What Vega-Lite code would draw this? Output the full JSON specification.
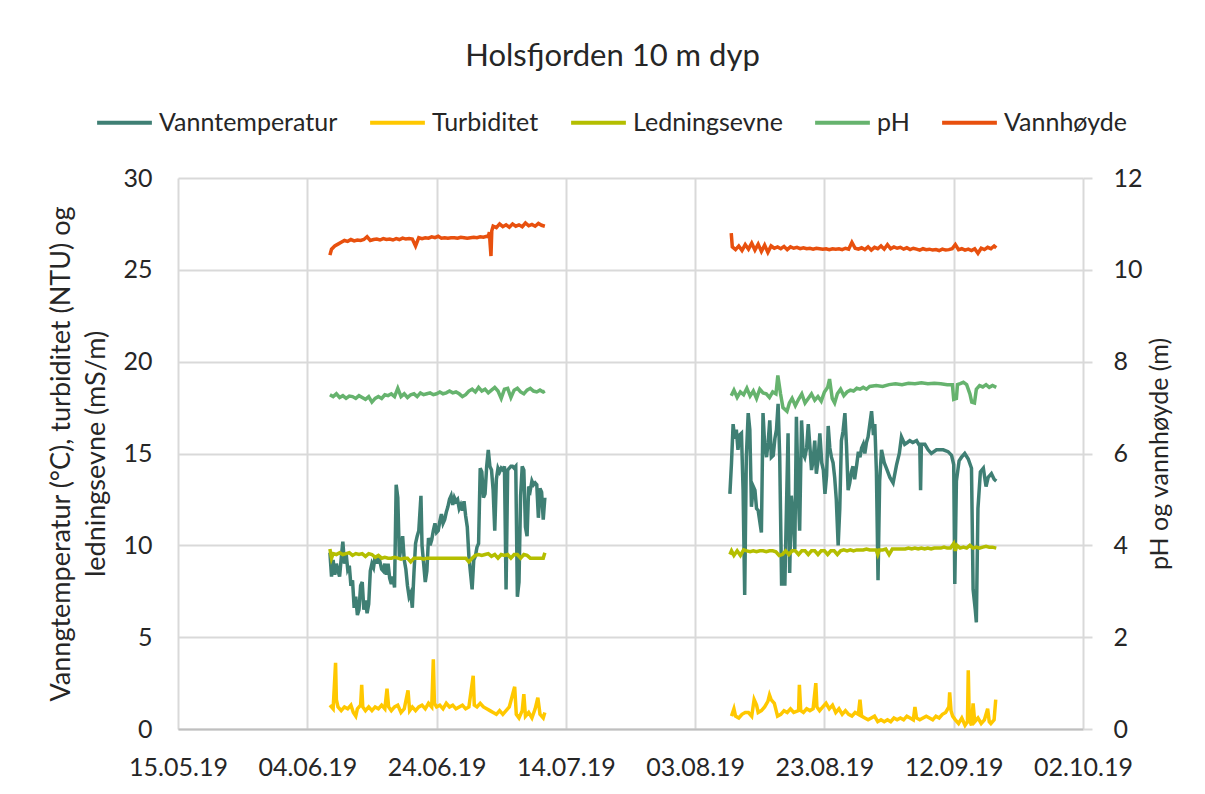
{
"$schema": "https://vega.github.io/schema/vega-lite/v6.json",
"width": 905, "height": 551,
"autosize": {"type": "none"},
"padding": {"left": 178, "top": 178, "right": 122, "bottom": 65},
"background": "white",
"title": {"text": "Holsfjorden 10 m dyp", "font": "Lato", "fontSize": 31, "fontWeight": "normal", "color": "#262626", "anchor": "middle", "dx": -18, "offset": 20},
"config": {
  "view": {"stroke": null},
  "font": "Lato",
  "axis": {"labelFont": "Lato", "titleFont": "Lato", "labelFontSize": 25, "titleFontSize": 25, "labelColor": "#262626", "titleColor": "#262626", "titleFontWeight": "normal", "gridColor": "#d9d9d9", "gridWidth": 2},
  "legend": {"labelFont": "Lato", "labelFontSize": 25, "labelColor": "#262626"}
},
"datasets": {
"left": [
{"t":"2019-06-07T12:00","s":"Vanntemperatur","v":9.6,"p":1},
{"t":"2019-06-07T18:00","s":"Vanntemperatur","v":8.3,"p":1},
{"t":"2019-06-08T00:00","s":"Vanntemperatur","v":9.2,"p":1},
{"t":"2019-06-08T06:00","s":"Vanntemperatur","v":8.4,"p":1},
{"t":"2019-06-08T12:00","s":"Vanntemperatur","v":9.0,"p":1},
{"t":"2019-06-08T18:00","s":"Vanntemperatur","v":8.6,"p":1},
{"t":"2019-06-09T00:00","s":"Vanntemperatur","v":8.3,"p":1},
{"t":"2019-06-09T06:00","s":"Vanntemperatur","v":9.3,"p":1},
{"t":"2019-06-09T12:00","s":"Vanntemperatur","v":10.2,"p":1},
{"t":"2019-06-09T18:00","s":"Vanntemperatur","v":9.0,"p":1},
{"t":"2019-06-10T00:00","s":"Vanntemperatur","v":9.6,"p":1},
{"t":"2019-06-10T06:00","s":"Vanntemperatur","v":8.7,"p":1},
{"t":"2019-06-10T12:00","s":"Vanntemperatur","v":8.9,"p":1},
{"t":"2019-06-10T18:00","s":"Vanntemperatur","v":7.8,"p":1},
{"t":"2019-06-11T00:00","s":"Vanntemperatur","v":8.1,"p":1},
{"t":"2019-06-11T06:00","s":"Vanntemperatur","v":6.6,"p":1},
{"t":"2019-06-11T12:00","s":"Vanntemperatur","v":7.2,"p":1},
{"t":"2019-06-11T18:00","s":"Vanntemperatur","v":6.2,"p":1},
{"t":"2019-06-12T00:00","s":"Vanntemperatur","v":6.5,"p":1},
{"t":"2019-06-12T06:00","s":"Vanntemperatur","v":7.8,"p":1},
{"t":"2019-06-12T12:00","s":"Vanntemperatur","v":8.0,"p":1},
{"t":"2019-06-12T18:00","s":"Vanntemperatur","v":6.5,"p":1},
{"t":"2019-06-13T00:00","s":"Vanntemperatur","v":7.0,"p":1},
{"t":"2019-06-13T06:00","s":"Vanntemperatur","v":6.3,"p":1},
{"t":"2019-06-13T12:00","s":"Vanntemperatur","v":6.8,"p":1},
{"t":"2019-06-13T18:00","s":"Vanntemperatur","v":8.6,"p":1},
{"t":"2019-06-14T00:00","s":"Vanntemperatur","v":9.0,"p":1},
{"t":"2019-06-14T06:00","s":"Vanntemperatur","v":8.8,"p":1},
{"t":"2019-06-14T12:00","s":"Vanntemperatur","v":9.4,"p":1},
{"t":"2019-06-14T18:00","s":"Vanntemperatur","v":9.0,"p":1},
{"t":"2019-06-15T00:00","s":"Vanntemperatur","v":9.4,"p":1},
{"t":"2019-06-15T06:00","s":"Vanntemperatur","v":9.1,"p":1},
{"t":"2019-06-15T12:00","s":"Vanntemperatur","v":8.7,"p":1},
{"t":"2019-06-15T18:00","s":"Vanntemperatur","v":8.6,"p":1},
{"t":"2019-06-16T00:00","s":"Vanntemperatur","v":9.0,"p":1},
{"t":"2019-06-16T06:00","s":"Vanntemperatur","v":8.4,"p":1},
{"t":"2019-06-16T12:00","s":"Vanntemperatur","v":9.0,"p":1},
{"t":"2019-06-16T18:00","s":"Vanntemperatur","v":8.2,"p":1},
{"t":"2019-06-17T00:00","s":"Vanntemperatur","v":7.9,"p":1},
{"t":"2019-06-17T06:00","s":"Vanntemperatur","v":8.3,"p":1},
{"t":"2019-06-17T12:00","s":"Vanntemperatur","v":7.7,"p":1},
{"t":"2019-06-17T18:00","s":"Vanntemperatur","v":13.3,"p":1},
{"t":"2019-06-18T00:00","s":"Vanntemperatur","v":12.6,"p":1},
{"t":"2019-06-18T06:00","s":"Vanntemperatur","v":9.3,"p":1},
{"t":"2019-06-18T12:00","s":"Vanntemperatur","v":9.9,"p":1},
{"t":"2019-06-18T18:00","s":"Vanntemperatur","v":10.5,"p":1},
{"t":"2019-06-19T00:00","s":"Vanntemperatur","v":9.2,"p":1},
{"t":"2019-06-19T06:00","s":"Vanntemperatur","v":8.7,"p":1},
{"t":"2019-06-19T12:00","s":"Vanntemperatur","v":7.8,"p":1},
{"t":"2019-06-19T18:00","s":"Vanntemperatur","v":7.2,"p":1},
{"t":"2019-06-20T00:00","s":"Vanntemperatur","v":7.4,"p":1},
{"t":"2019-06-20T06:00","s":"Vanntemperatur","v":6.6,"p":1},
{"t":"2019-06-20T12:00","s":"Vanntemperatur","v":8.5,"p":1},
{"t":"2019-06-20T18:00","s":"Vanntemperatur","v":10.1,"p":1},
{"t":"2019-06-21T00:00","s":"Vanntemperatur","v":10.5,"p":1},
{"t":"2019-06-21T06:00","s":"Vanntemperatur","v":10.8,"p":1},
{"t":"2019-06-21T14:00","s":"Vanntemperatur","v":12.7,"p":1},
{"t":"2019-06-21T18:00","s":"Vanntemperatur","v":10.0,"p":1},
{"t":"2019-06-22T00:00","s":"Vanntemperatur","v":9.0,"p":1},
{"t":"2019-06-22T06:00","s":"Vanntemperatur","v":8.0,"p":1},
{"t":"2019-06-22T12:00","s":"Vanntemperatur","v":8.6,"p":1},
{"t":"2019-06-22T18:00","s":"Vanntemperatur","v":10.4,"p":1},
{"t":"2019-06-23T00:00","s":"Vanntemperatur","v":10.0,"p":1},
{"t":"2019-06-23T06:00","s":"Vanntemperatur","v":10.3,"p":1},
{"t":"2019-06-23T12:00","s":"Vanntemperatur","v":10.8,"p":1},
{"t":"2019-06-23T18:00","s":"Vanntemperatur","v":11.2,"p":1},
{"t":"2019-06-24T00:00","s":"Vanntemperatur","v":10.7,"p":1},
{"t":"2019-06-24T06:00","s":"Vanntemperatur","v":10.8,"p":1},
{"t":"2019-06-24T12:00","s":"Vanntemperatur","v":11.3,"p":1},
{"t":"2019-06-24T18:00","s":"Vanntemperatur","v":11.7,"p":1},
{"t":"2019-06-25T00:00","s":"Vanntemperatur","v":11.2,"p":1},
{"t":"2019-06-25T06:00","s":"Vanntemperatur","v":11.4,"p":1},
{"t":"2019-06-25T12:00","s":"Vanntemperatur","v":11.8,"p":1},
{"t":"2019-06-25T18:00","s":"Vanntemperatur","v":12.1,"p":1},
{"t":"2019-06-26T00:00","s":"Vanntemperatur","v":12.5,"p":1},
{"t":"2019-06-26T06:00","s":"Vanntemperatur","v":12.7,"p":1},
{"t":"2019-06-26T12:00","s":"Vanntemperatur","v":12.2,"p":1},
{"t":"2019-06-26T18:00","s":"Vanntemperatur","v":12.6,"p":1},
{"t":"2019-06-27T00:00","s":"Vanntemperatur","v":12.4,"p":1},
{"t":"2019-06-27T06:00","s":"Vanntemperatur","v":12.5,"p":1},
{"t":"2019-06-27T12:00","s":"Vanntemperatur","v":12.0,"p":1},
{"t":"2019-06-27T18:00","s":"Vanntemperatur","v":12.2,"p":1},
{"t":"2019-06-28T00:00","s":"Vanntemperatur","v":11.9,"p":1},
{"t":"2019-06-28T06:00","s":"Vanntemperatur","v":12.4,"p":1},
{"t":"2019-06-28T12:00","s":"Vanntemperatur","v":11.6,"p":1},
{"t":"2019-06-28T18:00","s":"Vanntemperatur","v":11.0,"p":1},
{"t":"2019-06-29T00:00","s":"Vanntemperatur","v":9.4,"p":1},
{"t":"2019-06-29T06:00","s":"Vanntemperatur","v":8.5,"p":1},
{"t":"2019-06-29T12:00","s":"Vanntemperatur","v":7.6,"p":1},
{"t":"2019-06-29T18:00","s":"Vanntemperatur","v":9.2,"p":1},
{"t":"2019-06-30T00:00","s":"Vanntemperatur","v":9.4,"p":1},
{"t":"2019-06-30T06:00","s":"Vanntemperatur","v":9.9,"p":1},
{"t":"2019-06-30T12:00","s":"Vanntemperatur","v":10.1,"p":1},
{"t":"2019-06-30T18:00","s":"Vanntemperatur","v":14.2,"p":1},
{"t":"2019-07-01T00:00","s":"Vanntemperatur","v":14.0,"p":1},
{"t":"2019-07-01T06:00","s":"Vanntemperatur","v":12.6,"p":1},
{"t":"2019-07-01T12:00","s":"Vanntemperatur","v":12.8,"p":1},
{"t":"2019-07-01T18:00","s":"Vanntemperatur","v":14.3,"p":1},
{"t":"2019-07-02T00:00","s":"Vanntemperatur","v":15.2,"p":1},
{"t":"2019-07-02T06:00","s":"Vanntemperatur","v":14.3,"p":1},
{"t":"2019-07-02T12:00","s":"Vanntemperatur","v":14.1,"p":1},
{"t":"2019-07-02T18:00","s":"Vanntemperatur","v":13.0,"p":1},
{"t":"2019-07-03T00:00","s":"Vanntemperatur","v":10.8,"p":1},
{"t":"2019-07-03T06:00","s":"Vanntemperatur","v":13.6,"p":1},
{"t":"2019-07-03T12:00","s":"Vanntemperatur","v":14.2,"p":1},
{"t":"2019-07-03T18:00","s":"Vanntemperatur","v":14.0,"p":1},
{"t":"2019-07-04T00:00","s":"Vanntemperatur","v":14.2,"p":1},
{"t":"2019-07-04T06:00","s":"Vanntemperatur","v":14.1,"p":1},
{"t":"2019-07-04T12:00","s":"Vanntemperatur","v":14.3,"p":1},
{"t":"2019-07-04T18:00","s":"Vanntemperatur","v":7.6,"p":1},
{"t":"2019-07-05T00:00","s":"Vanntemperatur","v":14.1,"p":1},
{"t":"2019-07-05T06:00","s":"Vanntemperatur","v":14.2,"p":1},
{"t":"2019-07-05T12:00","s":"Vanntemperatur","v":14.3,"p":1},
{"t":"2019-07-05T18:00","s":"Vanntemperatur","v":14.3,"p":1},
{"t":"2019-07-06T00:00","s":"Vanntemperatur","v":14.2,"p":1},
{"t":"2019-07-06T06:00","s":"Vanntemperatur","v":14.3,"p":1},
{"t":"2019-07-06T12:00","s":"Vanntemperatur","v":7.2,"p":1},
{"t":"2019-07-06T18:00","s":"Vanntemperatur","v":8.0,"p":1},
{"t":"2019-07-07T00:00","s":"Vanntemperatur","v":12.7,"p":1},
{"t":"2019-07-07T06:00","s":"Vanntemperatur","v":14.3,"p":1},
{"t":"2019-07-07T12:00","s":"Vanntemperatur","v":14.1,"p":1},
{"t":"2019-07-07T18:00","s":"Vanntemperatur","v":11.0,"p":1},
{"t":"2019-07-08T00:00","s":"Vanntemperatur","v":10.5,"p":1},
{"t":"2019-07-08T06:00","s":"Vanntemperatur","v":13.2,"p":1},
{"t":"2019-07-08T12:00","s":"Vanntemperatur","v":13.0,"p":1},
{"t":"2019-07-08T18:00","s":"Vanntemperatur","v":13.5,"p":1},
{"t":"2019-07-09T00:00","s":"Vanntemperatur","v":13.3,"p":1},
{"t":"2019-07-09T06:00","s":"Vanntemperatur","v":13.4,"p":1},
{"t":"2019-07-09T12:00","s":"Vanntemperatur","v":13.3,"p":1},
{"t":"2019-07-09T18:00","s":"Vanntemperatur","v":11.5,"p":1},
{"t":"2019-07-10T00:00","s":"Vanntemperatur","v":13.1,"p":1},
{"t":"2019-07-10T06:00","s":"Vanntemperatur","v":12.9,"p":1},
{"t":"2019-07-10T12:00","s":"Vanntemperatur","v":11.4,"p":1},
{"t":"2019-07-10T18:00","s":"Vanntemperatur","v":12.6,"p":1},
{"t":"2019-08-08T09:00","s":"Vanntemperatur","v":12.8,"p":2},
{"t":"2019-08-08T15:00","s":"Vanntemperatur","v":14.5,"p":2},
{"t":"2019-08-08T21:00","s":"Vanntemperatur","v":16.6,"p":2},
{"t":"2019-08-09T03:00","s":"Vanntemperatur","v":15.8,"p":2},
{"t":"2019-08-09T09:00","s":"Vanntemperatur","v":16.3,"p":2},
{"t":"2019-08-09T15:00","s":"Vanntemperatur","v":15.2,"p":2},
{"t":"2019-08-09T21:00","s":"Vanntemperatur","v":16.0,"p":2},
{"t":"2019-08-10T04:00","s":"Vanntemperatur","v":16.1,"p":2},
{"t":"2019-08-10T10:00","s":"Vanntemperatur","v":13.0,"p":2},
{"t":"2019-08-10T16:00","s":"Vanntemperatur","v":7.3,"p":2},
{"t":"2019-08-10T22:00","s":"Vanntemperatur","v":14.8,"p":2},
{"t":"2019-08-11T05:00","s":"Vanntemperatur","v":17.2,"p":2},
{"t":"2019-08-11T11:00","s":"Vanntemperatur","v":16.3,"p":2},
{"t":"2019-08-11T17:00","s":"Vanntemperatur","v":12.1,"p":2},
{"t":"2019-08-12T00:00","s":"Vanntemperatur","v":13.2,"p":2},
{"t":"2019-08-12T06:00","s":"Vanntemperatur","v":13.0,"p":2},
{"t":"2019-08-12T12:00","s":"Vanntemperatur","v":12.0,"p":2},
{"t":"2019-08-12T18:00","s":"Vanntemperatur","v":11.9,"p":2},
{"t":"2019-08-13T06:00","s":"Vanntemperatur","v":10.7,"p":2},
{"t":"2019-08-13T12:00","s":"Vanntemperatur","v":17.2,"p":2},
{"t":"2019-08-13T18:00","s":"Vanntemperatur","v":15.5,"p":2},
{"t":"2019-08-14T01:00","s":"Vanntemperatur","v":14.8,"p":2},
{"t":"2019-08-14T07:00","s":"Vanntemperatur","v":15.6,"p":2},
{"t":"2019-08-14T13:00","s":"Vanntemperatur","v":16.8,"p":2},
{"t":"2019-08-14T19:00","s":"Vanntemperatur","v":14.8,"p":2},
{"t":"2019-08-15T02:00","s":"Vanntemperatur","v":14.9,"p":2},
{"t":"2019-08-15T08:00","s":"Vanntemperatur","v":15.8,"p":2},
{"t":"2019-08-15T14:00","s":"Vanntemperatur","v":16.3,"p":2},
{"t":"2019-08-15T20:00","s":"Vanntemperatur","v":17.7,"p":2},
{"t":"2019-08-16T02:00","s":"Vanntemperatur","v":14.8,"p":2},
{"t":"2019-08-16T09:00","s":"Vanntemperatur","v":7.8,"p":2},
{"t":"2019-08-16T15:00","s":"Vanntemperatur","v":9.5,"p":2},
{"t":"2019-08-16T21:00","s":"Vanntemperatur","v":7.8,"p":2},
{"t":"2019-08-17T03:00","s":"Vanntemperatur","v":12.0,"p":2},
{"t":"2019-08-17T09:00","s":"Vanntemperatur","v":16.1,"p":2},
{"t":"2019-08-17T15:00","s":"Vanntemperatur","v":8.5,"p":2},
{"t":"2019-08-17T21:00","s":"Vanntemperatur","v":12.7,"p":2},
{"t":"2019-08-18T04:00","s":"Vanntemperatur","v":11.5,"p":2},
{"t":"2019-08-18T10:00","s":"Vanntemperatur","v":9.8,"p":2},
{"t":"2019-08-18T16:00","s":"Vanntemperatur","v":17.0,"p":2},
{"t":"2019-08-18T22:00","s":"Vanntemperatur","v":13.2,"p":2},
{"t":"2019-08-19T04:00","s":"Vanntemperatur","v":10.8,"p":2},
{"t":"2019-08-19T11:00","s":"Vanntemperatur","v":16.8,"p":2},
{"t":"2019-08-19T17:00","s":"Vanntemperatur","v":15.0,"p":2},
{"t":"2019-08-19T23:00","s":"Vanntemperatur","v":14.8,"p":2},
{"t":"2019-08-20T06:00","s":"Vanntemperatur","v":15.3,"p":2},
{"t":"2019-08-20T12:00","s":"Vanntemperatur","v":16.6,"p":2},
{"t":"2019-08-20T18:00","s":"Vanntemperatur","v":15.4,"p":2},
{"t":"2019-08-21T00:00","s":"Vanntemperatur","v":14.1,"p":2},
{"t":"2019-08-21T06:00","s":"Vanntemperatur","v":14.6,"p":2},
{"t":"2019-08-21T12:00","s":"Vanntemperatur","v":15.7,"p":2},
{"t":"2019-08-21T18:00","s":"Vanntemperatur","v":13.9,"p":2},
{"t":"2019-08-22T00:00","s":"Vanntemperatur","v":14.6,"p":2},
{"t":"2019-08-22T07:00","s":"Vanntemperatur","v":16.1,"p":2},
{"t":"2019-08-22T14:00","s":"Vanntemperatur","v":14.5,"p":2},
{"t":"2019-08-22T20:00","s":"Vanntemperatur","v":14.1,"p":2},
{"t":"2019-08-23T02:00","s":"Vanntemperatur","v":12.8,"p":2},
{"t":"2019-08-23T08:00","s":"Vanntemperatur","v":13.8,"p":2},
{"t":"2019-08-23T14:00","s":"Vanntemperatur","v":16.5,"p":2},
{"t":"2019-08-23T20:00","s":"Vanntemperatur","v":15.3,"p":2},
{"t":"2019-08-24T02:00","s":"Vanntemperatur","v":14.8,"p":2},
{"t":"2019-08-24T08:00","s":"Vanntemperatur","v":14.5,"p":2},
{"t":"2019-08-24T14:00","s":"Vanntemperatur","v":13.7,"p":2},
{"t":"2019-08-24T20:00","s":"Vanntemperatur","v":12.5,"p":2},
{"t":"2019-08-25T03:00","s":"Vanntemperatur","v":10.0,"p":2},
{"t":"2019-08-25T09:00","s":"Vanntemperatur","v":12.0,"p":2},
{"t":"2019-08-25T15:00","s":"Vanntemperatur","v":15.7,"p":2},
{"t":"2019-08-25T21:00","s":"Vanntemperatur","v":16.2,"p":2},
{"t":"2019-08-26T04:00","s":"Vanntemperatur","v":17.2,"p":2},
{"t":"2019-08-26T10:00","s":"Vanntemperatur","v":15.4,"p":2},
{"t":"2019-08-26T16:00","s":"Vanntemperatur","v":13.0,"p":2},
{"t":"2019-08-26T22:00","s":"Vanntemperatur","v":13.4,"p":2},
{"t":"2019-08-27T04:00","s":"Vanntemperatur","v":14.0,"p":2},
{"t":"2019-08-27T10:00","s":"Vanntemperatur","v":14.3,"p":2},
{"t":"2019-08-27T16:00","s":"Vanntemperatur","v":13.6,"p":2},
{"t":"2019-08-28T00:00","s":"Vanntemperatur","v":14.4,"p":2},
{"t":"2019-08-28T06:00","s":"Vanntemperatur","v":15.1,"p":2},
{"t":"2019-08-28T12:00","s":"Vanntemperatur","v":14.8,"p":2},
{"t":"2019-08-28T18:00","s":"Vanntemperatur","v":15.3,"p":2},
{"t":"2019-08-29T00:00","s":"Vanntemperatur","v":15.5,"p":2},
{"t":"2019-08-29T06:00","s":"Vanntemperatur","v":15.0,"p":2},
{"t":"2019-08-29T12:00","s":"Vanntemperatur","v":15.6,"p":2},
{"t":"2019-08-29T18:00","s":"Vanntemperatur","v":15.9,"p":2},
{"t":"2019-08-30T07:00","s":"Vanntemperatur","v":17.3,"p":2},
{"t":"2019-08-30T14:00","s":"Vanntemperatur","v":16.0,"p":2},
{"t":"2019-08-30T19:00","s":"Vanntemperatur","v":16.6,"p":2},
{"t":"2019-08-31T01:00","s":"Vanntemperatur","v":14.0,"p":2},
{"t":"2019-08-31T07:00","s":"Vanntemperatur","v":8.1,"p":2},
{"t":"2019-08-31T13:00","s":"Vanntemperatur","v":13.5,"p":2},
{"t":"2019-08-31T20:00","s":"Vanntemperatur","v":15.2,"p":2},
{"t":"2019-09-01T06:00","s":"Vanntemperatur","v":14.5,"p":2},
{"t":"2019-09-01T14:00","s":"Vanntemperatur","v":14.2,"p":2},
{"t":"2019-09-02T03:00","s":"Vanntemperatur","v":13.7,"p":2},
{"t":"2019-09-02T15:00","s":"Vanntemperatur","v":13.4,"p":2},
{"t":"2019-09-03T04:00","s":"Vanntemperatur","v":14.4,"p":2},
{"t":"2019-09-03T14:00","s":"Vanntemperatur","v":15.0,"p":2},
{"t":"2019-09-03T22:00","s":"Vanntemperatur","v":15.9,"p":2},
{"t":"2019-09-04T10:00","s":"Vanntemperatur","v":15.5,"p":2},
{"t":"2019-09-04T20:00","s":"Vanntemperatur","v":15.6,"p":2},
{"t":"2019-09-05T05:00","s":"Vanntemperatur","v":15.7,"p":2},
{"t":"2019-09-05T16:00","s":"Vanntemperatur","v":15.6,"p":2},
{"t":"2019-09-06T06:00","s":"Vanntemperatur","v":15.7,"p":2},
{"t":"2019-09-06T18:00","s":"Vanntemperatur","v":15.4,"p":2},
{"t":"2019-09-06T21:00","s":"Vanntemperatur","v":13.0,"p":2},
{"t":"2019-09-07T00:00","s":"Vanntemperatur","v":15.5,"p":2},
{"t":"2019-09-07T13:00","s":"Vanntemperatur","v":15.5,"p":2},
{"t":"2019-09-08T01:00","s":"Vanntemperatur","v":15.2,"p":2},
{"t":"2019-09-08T13:00","s":"Vanntemperatur","v":15.0,"p":2},
{"t":"2019-09-09T08:00","s":"Vanntemperatur","v":15.2,"p":2},
{"t":"2019-09-10T09:00","s":"Vanntemperatur","v":15.2,"p":2},
{"t":"2019-09-11T03:00","s":"Vanntemperatur","v":15.1,"p":2},
{"t":"2019-09-11T16:00","s":"Vanntemperatur","v":14.9,"p":2},
{"t":"2019-09-12T00:00","s":"Vanntemperatur","v":14.4,"p":2},
{"t":"2019-09-12T04:00","s":"Vanntemperatur","v":7.9,"p":2},
{"t":"2019-09-12T10:00","s":"Vanntemperatur","v":13.5,"p":2},
{"t":"2019-09-12T20:00","s":"Vanntemperatur","v":14.6,"p":2},
{"t":"2019-09-13T05:00","s":"Vanntemperatur","v":14.8,"p":2},
{"t":"2019-09-13T17:00","s":"Vanntemperatur","v":15.0,"p":2},
{"t":"2019-09-14T06:00","s":"Vanntemperatur","v":14.7,"p":2},
{"t":"2019-09-14T18:00","s":"Vanntemperatur","v":14.2,"p":2},
{"t":"2019-09-15T00:00","s":"Vanntemperatur","v":7.6,"p":2},
{"t":"2019-09-15T08:00","s":"Vanntemperatur","v":6.5,"p":2},
{"t":"2019-09-15T12:00","s":"Vanntemperatur","v":5.8,"p":2},
{"t":"2019-09-15T18:00","s":"Vanntemperatur","v":12.0,"p":2},
{"t":"2019-09-16T03:00","s":"Vanntemperatur","v":14.0,"p":2},
{"t":"2019-09-16T14:00","s":"Vanntemperatur","v":14.2,"p":2},
{"t":"2019-09-17T00:00","s":"Vanntemperatur","v":13.2,"p":2},
{"t":"2019-09-17T08:00","s":"Vanntemperatur","v":13.7,"p":2},
{"t":"2019-09-17T20:00","s":"Vanntemperatur","v":13.9,"p":2},
{"t":"2019-09-18T06:00","s":"Vanntemperatur","v":13.6,"p":2},
{"t":"2019-09-18T14:00","s":"Vanntemperatur","v":13.5,"p":2},
{"t":"2019-06-07T12:00","s":"Turbiditet","v":1.3,"p":1},
{"t":"2019-06-08T00:00","s":"Turbiditet","v":1.1,"p":1},
{"t":"2019-06-08T09:00","s":"Turbiditet","v":3.6,"p":1},
{"t":"2019-06-08T12:00","s":"Turbiditet","v":1.6,"p":1},
{"t":"2019-06-08T18:00","s":"Turbiditet","v":1.2,"p":1},
{"t":"2019-06-09T06:00","s":"Turbiditet","v":1.0,"p":1},
{"t":"2019-06-09T18:00","s":"Turbiditet","v":1.2,"p":1},
{"t":"2019-06-10T06:00","s":"Turbiditet","v":1.1,"p":1},
{"t":"2019-06-10T18:00","s":"Turbiditet","v":1.3,"p":1},
{"t":"2019-06-11T03:00","s":"Turbiditet","v":0.9,"p":1},
{"t":"2019-06-11T12:00","s":"Turbiditet","v":0.7,"p":1},
{"t":"2019-06-11T18:00","s":"Turbiditet","v":1.1,"p":1},
{"t":"2019-06-12T06:00","s":"Turbiditet","v":1.3,"p":1},
{"t":"2019-06-12T10:00","s":"Turbiditet","v":2.4,"p":1},
{"t":"2019-06-12T14:00","s":"Turbiditet","v":1.2,"p":1},
{"t":"2019-06-13T00:00","s":"Turbiditet","v":1.0,"p":1},
{"t":"2019-06-13T12:00","s":"Turbiditet","v":1.2,"p":1},
{"t":"2019-06-14T00:00","s":"Turbiditet","v":1.0,"p":1},
{"t":"2019-06-14T12:00","s":"Turbiditet","v":1.2,"p":1},
{"t":"2019-06-15T00:00","s":"Turbiditet","v":1.1,"p":1},
{"t":"2019-06-15T12:00","s":"Turbiditet","v":1.3,"p":1},
{"t":"2019-06-16T00:00","s":"Turbiditet","v":1.1,"p":1},
{"t":"2019-06-16T08:00","s":"Turbiditet","v":2.2,"p":1},
{"t":"2019-06-16T14:00","s":"Turbiditet","v":1.2,"p":1},
{"t":"2019-06-17T00:00","s":"Turbiditet","v":1.0,"p":1},
{"t":"2019-06-17T12:00","s":"Turbiditet","v":1.2,"p":1},
{"t":"2019-06-18T00:00","s":"Turbiditet","v":1.3,"p":1},
{"t":"2019-06-18T12:00","s":"Turbiditet","v":0.9,"p":1},
{"t":"2019-06-19T00:00","s":"Turbiditet","v":1.1,"p":1},
{"t":"2019-06-19T14:00","s":"Turbiditet","v":2.1,"p":1},
{"t":"2019-06-19T20:00","s":"Turbiditet","v":1.0,"p":1},
{"t":"2019-06-20T06:00","s":"Turbiditet","v":1.2,"p":1},
{"t":"2019-06-20T18:00","s":"Turbiditet","v":1.0,"p":1},
{"t":"2019-06-21T06:00","s":"Turbiditet","v":1.2,"p":1},
{"t":"2019-06-21T18:00","s":"Turbiditet","v":1.3,"p":1},
{"t":"2019-06-22T06:00","s":"Turbiditet","v":1.1,"p":1},
{"t":"2019-06-22T18:00","s":"Turbiditet","v":1.4,"p":1},
{"t":"2019-06-23T06:00","s":"Turbiditet","v":1.2,"p":1},
{"t":"2019-06-23T12:00","s":"Turbiditet","v":3.8,"p":1},
{"t":"2019-06-23T16:00","s":"Turbiditet","v":1.4,"p":1},
{"t":"2019-06-24T00:00","s":"Turbiditet","v":1.2,"p":1},
{"t":"2019-06-24T12:00","s":"Turbiditet","v":1.3,"p":1},
{"t":"2019-06-25T00:00","s":"Turbiditet","v":1.1,"p":1},
{"t":"2019-06-25T12:00","s":"Turbiditet","v":1.4,"p":1},
{"t":"2019-06-26T00:00","s":"Turbiditet","v":1.2,"p":1},
{"t":"2019-06-26T12:00","s":"Turbiditet","v":1.3,"p":1},
{"t":"2019-06-27T00:00","s":"Turbiditet","v":1.1,"p":1},
{"t":"2019-06-27T12:00","s":"Turbiditet","v":1.2,"p":1},
{"t":"2019-06-28T00:00","s":"Turbiditet","v":1.3,"p":1},
{"t":"2019-06-28T12:00","s":"Turbiditet","v":1.1,"p":1},
{"t":"2019-06-29T00:00","s":"Turbiditet","v":1.2,"p":1},
{"t":"2019-06-29T16:00","s":"Turbiditet","v":2.9,"p":1},
{"t":"2019-06-29T20:00","s":"Turbiditet","v":1.3,"p":1},
{"t":"2019-06-30T06:00","s":"Turbiditet","v":1.2,"p":1},
{"t":"2019-06-30T18:00","s":"Turbiditet","v":1.4,"p":1},
{"t":"2019-07-01T06:00","s":"Turbiditet","v":1.2,"p":1},
{"t":"2019-07-01T18:00","s":"Turbiditet","v":1.1,"p":1},
{"t":"2019-07-02T06:00","s":"Turbiditet","v":1.0,"p":1},
{"t":"2019-07-02T18:00","s":"Turbiditet","v":0.9,"p":1},
{"t":"2019-07-03T06:00","s":"Turbiditet","v":0.8,"p":1},
{"t":"2019-07-03T18:00","s":"Turbiditet","v":1.0,"p":1},
{"t":"2019-07-04T06:00","s":"Turbiditet","v":0.8,"p":1},
{"t":"2019-07-04T18:00","s":"Turbiditet","v":1.0,"p":1},
{"t":"2019-07-05T06:00","s":"Turbiditet","v":1.2,"p":1},
{"t":"2019-07-06T02:00","s":"Turbiditet","v":2.3,"p":1},
{"t":"2019-07-06T08:00","s":"Turbiditet","v":0.8,"p":1},
{"t":"2019-07-06T18:00","s":"Turbiditet","v":0.6,"p":1},
{"t":"2019-07-07T06:00","s":"Turbiditet","v":1.0,"p":1},
{"t":"2019-07-07T12:00","s":"Turbiditet","v":1.9,"p":1},
{"t":"2019-07-07T18:00","s":"Turbiditet","v":0.7,"p":1},
{"t":"2019-07-08T06:00","s":"Turbiditet","v":0.9,"p":1},
{"t":"2019-07-08T18:00","s":"Turbiditet","v":0.6,"p":1},
{"t":"2019-07-09T06:00","s":"Turbiditet","v":1.1,"p":1},
{"t":"2019-07-09T16:00","s":"Turbiditet","v":1.7,"p":1},
{"t":"2019-07-10T00:00","s":"Turbiditet","v":0.8,"p":1},
{"t":"2019-07-10T12:00","s":"Turbiditet","v":0.6,"p":1},
{"t":"2019-07-10T18:00","s":"Turbiditet","v":0.9,"p":1},
{"t":"2019-08-08T15:00","s":"Turbiditet","v":0.7,"p":2},
{"t":"2019-08-09T00:00","s":"Turbiditet","v":1.1,"p":2},
{"t":"2019-08-09T06:00","s":"Turbiditet","v":0.7,"p":2},
{"t":"2019-08-09T18:00","s":"Turbiditet","v":0.6,"p":2},
{"t":"2019-08-10T06:00","s":"Turbiditet","v":0.8,"p":2},
{"t":"2019-08-10T18:00","s":"Turbiditet","v":0.9,"p":2},
{"t":"2019-08-11T06:00","s":"Turbiditet","v":0.9,"p":2},
{"t":"2019-08-11T18:00","s":"Turbiditet","v":0.7,"p":2},
{"t":"2019-08-12T03:00","s":"Turbiditet","v":1.6,"p":2},
{"t":"2019-08-12T12:00","s":"Turbiditet","v":1.3,"p":2},
{"t":"2019-08-12T18:00","s":"Turbiditet","v":0.9,"p":2},
{"t":"2019-08-13T06:00","s":"Turbiditet","v":1.0,"p":2},
{"t":"2019-08-13T18:00","s":"Turbiditet","v":1.2,"p":2},
{"t":"2019-08-14T06:00","s":"Turbiditet","v":1.5,"p":2},
{"t":"2019-08-14T12:00","s":"Turbiditet","v":1.85,"p":2},
{"t":"2019-08-14T18:00","s":"Turbiditet","v":1.6,"p":2},
{"t":"2019-08-15T06:00","s":"Turbiditet","v":1.4,"p":2},
{"t":"2019-08-15T18:00","s":"Turbiditet","v":0.7,"p":2},
{"t":"2019-08-16T06:00","s":"Turbiditet","v":0.8,"p":2},
{"t":"2019-08-16T18:00","s":"Turbiditet","v":1.0,"p":2},
{"t":"2019-08-17T06:00","s":"Turbiditet","v":0.9,"p":2},
{"t":"2019-08-17T18:00","s":"Turbiditet","v":1.1,"p":2},
{"t":"2019-08-18T06:00","s":"Turbiditet","v":0.9,"p":2},
{"t":"2019-08-19T00:00","s":"Turbiditet","v":1.0,"p":2},
{"t":"2019-08-19T03:00","s":"Turbiditet","v":2.4,"p":2},
{"t":"2019-08-19T08:00","s":"Turbiditet","v":1.0,"p":2},
{"t":"2019-08-19T18:00","s":"Turbiditet","v":0.9,"p":2},
{"t":"2019-08-20T06:00","s":"Turbiditet","v":1.1,"p":2},
{"t":"2019-08-20T18:00","s":"Turbiditet","v":1.0,"p":2},
{"t":"2019-08-21T06:00","s":"Turbiditet","v":1.1,"p":2},
{"t":"2019-08-21T16:00","s":"Turbiditet","v":2.5,"p":2},
{"t":"2019-08-21T20:00","s":"Turbiditet","v":1.2,"p":2},
{"t":"2019-08-22T06:00","s":"Turbiditet","v":1.0,"p":2},
{"t":"2019-08-22T18:00","s":"Turbiditet","v":1.2,"p":2},
{"t":"2019-08-23T06:00","s":"Turbiditet","v":1.4,"p":2},
{"t":"2019-08-23T18:00","s":"Turbiditet","v":1.1,"p":2},
{"t":"2019-08-24T06:00","s":"Turbiditet","v":1.3,"p":2},
{"t":"2019-08-24T18:00","s":"Turbiditet","v":0.9,"p":2},
{"t":"2019-08-25T06:00","s":"Turbiditet","v":1.1,"p":2},
{"t":"2019-08-25T18:00","s":"Turbiditet","v":0.8,"p":2},
{"t":"2019-08-26T06:00","s":"Turbiditet","v":1.0,"p":2},
{"t":"2019-08-26T18:00","s":"Turbiditet","v":0.8,"p":2},
{"t":"2019-08-27T06:00","s":"Turbiditet","v":0.7,"p":2},
{"t":"2019-08-27T18:00","s":"Turbiditet","v":0.9,"p":2},
{"t":"2019-08-28T06:00","s":"Turbiditet","v":0.8,"p":2},
{"t":"2019-08-28T12:00","s":"Turbiditet","v":1.6,"p":2},
{"t":"2019-08-28T18:00","s":"Turbiditet","v":0.7,"p":2},
{"t":"2019-08-29T06:00","s":"Turbiditet","v":0.6,"p":2},
{"t":"2019-08-29T18:00","s":"Turbiditet","v":0.5,"p":2},
{"t":"2019-08-30T06:00","s":"Turbiditet","v":0.6,"p":2},
{"t":"2019-08-30T18:00","s":"Turbiditet","v":0.7,"p":2},
{"t":"2019-08-31T06:00","s":"Turbiditet","v":0.4,"p":2},
{"t":"2019-08-31T18:00","s":"Turbiditet","v":0.5,"p":2},
{"t":"2019-09-01T06:00","s":"Turbiditet","v":0.4,"p":2},
{"t":"2019-09-01T18:00","s":"Turbiditet","v":0.5,"p":2},
{"t":"2019-09-02T06:00","s":"Turbiditet","v":0.4,"p":2},
{"t":"2019-09-02T18:00","s":"Turbiditet","v":0.6,"p":2},
{"t":"2019-09-03T06:00","s":"Turbiditet","v":0.5,"p":2},
{"t":"2019-09-03T18:00","s":"Turbiditet","v":0.6,"p":2},
{"t":"2019-09-04T06:00","s":"Turbiditet","v":0.5,"p":2},
{"t":"2019-09-04T18:00","s":"Turbiditet","v":0.7,"p":2},
{"t":"2019-09-05T06:00","s":"Turbiditet","v":0.6,"p":2},
{"t":"2019-09-05T18:00","s":"Turbiditet","v":0.5,"p":2},
{"t":"2019-09-06T00:00","s":"Turbiditet","v":1.2,"p":2},
{"t":"2019-09-06T06:00","s":"Turbiditet","v":0.6,"p":2},
{"t":"2019-09-06T18:00","s":"Turbiditet","v":0.5,"p":2},
{"t":"2019-09-07T06:00","s":"Turbiditet","v":0.6,"p":2},
{"t":"2019-09-07T18:00","s":"Turbiditet","v":0.7,"p":2},
{"t":"2019-09-08T06:00","s":"Turbiditet","v":0.6,"p":2},
{"t":"2019-09-08T18:00","s":"Turbiditet","v":0.5,"p":2},
{"t":"2019-09-09T06:00","s":"Turbiditet","v":0.7,"p":2},
{"t":"2019-09-09T18:00","s":"Turbiditet","v":0.6,"p":2},
{"t":"2019-09-10T06:00","s":"Turbiditet","v":0.8,"p":2},
{"t":"2019-09-10T18:00","s":"Turbiditet","v":0.9,"p":2},
{"t":"2019-09-11T06:00","s":"Turbiditet","v":1.2,"p":2},
{"t":"2019-09-11T09:00","s":"Turbiditet","v":2.0,"p":2},
{"t":"2019-09-11T14:00","s":"Turbiditet","v":1.0,"p":2},
{"t":"2019-09-11T20:00","s":"Turbiditet","v":0.7,"p":2},
{"t":"2019-09-12T06:00","s":"Turbiditet","v":0.5,"p":2},
{"t":"2019-09-12T18:00","s":"Turbiditet","v":0.3,"p":2},
{"t":"2019-09-13T06:00","s":"Turbiditet","v":0.6,"p":2},
{"t":"2019-09-13T18:00","s":"Turbiditet","v":0.2,"p":2},
{"t":"2019-09-14T03:00","s":"Turbiditet","v":0.4,"p":2},
{"t":"2019-09-14T06:00","s":"Turbiditet","v":3.2,"p":2},
{"t":"2019-09-14T10:00","s":"Turbiditet","v":0.5,"p":2},
{"t":"2019-09-14T18:00","s":"Turbiditet","v":0.2,"p":2},
{"t":"2019-09-15T00:00","s":"Turbiditet","v":1.4,"p":2},
{"t":"2019-09-15T06:00","s":"Turbiditet","v":0.4,"p":2},
{"t":"2019-09-15T18:00","s":"Turbiditet","v":0.6,"p":2},
{"t":"2019-09-16T06:00","s":"Turbiditet","v":0.3,"p":2},
{"t":"2019-09-16T18:00","s":"Turbiditet","v":0.5,"p":2},
{"t":"2019-09-17T06:00","s":"Turbiditet","v":1.1,"p":2},
{"t":"2019-09-17T12:00","s":"Turbiditet","v":0.4,"p":2},
{"t":"2019-09-17T18:00","s":"Turbiditet","v":0.3,"p":2},
{"t":"2019-09-18T06:00","s":"Turbiditet","v":0.5,"p":2},
{"t":"2019-09-18T12:00","s":"Turbiditet","v":1.6,"p":2},
{"t":"2019-06-07T12:00","s":"Ledningsevne","v":9.8,"p":1},
{"t":"2019-06-07T18:00","s":"Ledningsevne","v":9.3,"p":1},
{"t":"2019-06-08T00:00","s":"Ledningsevne","v":9.55,"p":1},
{"t":"2019-06-08T12:00","s":"Ledningsevne","v":9.5,"p":1},
{"t":"2019-06-09T00:00","s":"Ledningsevne","v":9.6,"p":1},
{"t":"2019-06-09T12:00","s":"Ledningsevne","v":9.5,"p":1},
{"t":"2019-06-10T00:00","s":"Ledningsevne","v":9.55,"p":1},
{"t":"2019-06-10T12:00","s":"Ledningsevne","v":9.6,"p":1},
{"t":"2019-06-11T00:00","s":"Ledningsevne","v":9.45,"p":1},
{"t":"2019-06-11T12:00","s":"Ledningsevne","v":9.55,"p":1},
{"t":"2019-06-12T00:00","s":"Ledningsevne","v":9.5,"p":1},
{"t":"2019-06-12T12:00","s":"Ledningsevne","v":9.55,"p":1},
{"t":"2019-06-13T00:00","s":"Ledningsevne","v":9.4,"p":1},
{"t":"2019-06-13T12:00","s":"Ledningsevne","v":9.55,"p":1},
{"t":"2019-06-14T00:00","s":"Ledningsevne","v":9.5,"p":1},
{"t":"2019-06-14T12:00","s":"Ledningsevne","v":9.35,"p":1},
{"t":"2019-06-15T00:00","s":"Ledningsevne","v":9.45,"p":1},
{"t":"2019-06-15T12:00","s":"Ledningsevne","v":9.3,"p":1},
{"t":"2019-06-16T00:00","s":"Ledningsevne","v":9.35,"p":1},
{"t":"2019-06-16T12:00","s":"Ledningsevne","v":9.3,"p":1},
{"t":"2019-06-17T00:00","s":"Ledningsevne","v":9.3,"p":1},
{"t":"2019-06-17T12:00","s":"Ledningsevne","v":9.35,"p":1},
{"t":"2019-06-18T00:00","s":"Ledningsevne","v":9.3,"p":1},
{"t":"2019-06-18T12:00","s":"Ledningsevne","v":9.25,"p":1},
{"t":"2019-06-19T00:00","s":"Ledningsevne","v":9.3,"p":1},
{"t":"2019-06-19T12:00","s":"Ledningsevne","v":9.3,"p":1},
{"t":"2019-06-20T00:00","s":"Ledningsevne","v":9.1,"p":1},
{"t":"2019-06-20T12:00","s":"Ledningsevne","v":9.3,"p":1},
{"t":"2019-06-21T00:00","s":"Ledningsevne","v":9.3,"p":1},
{"t":"2019-06-21T12:00","s":"Ledningsevne","v":9.3,"p":1},
{"t":"2019-06-22T00:00","s":"Ledningsevne","v":9.25,"p":1},
{"t":"2019-06-22T12:00","s":"Ledningsevne","v":9.3,"p":1},
{"t":"2019-06-23T00:00","s":"Ledningsevne","v":9.3,"p":1},
{"t":"2019-06-23T12:00","s":"Ledningsevne","v":9.3,"p":1},
{"t":"2019-06-24T00:00","s":"Ledningsevne","v":9.3,"p":1},
{"t":"2019-06-24T12:00","s":"Ledningsevne","v":9.3,"p":1},
{"t":"2019-06-25T00:00","s":"Ledningsevne","v":9.3,"p":1},
{"t":"2019-06-25T12:00","s":"Ledningsevne","v":9.3,"p":1},
{"t":"2019-06-26T00:00","s":"Ledningsevne","v":9.3,"p":1},
{"t":"2019-06-26T12:00","s":"Ledningsevne","v":9.3,"p":1},
{"t":"2019-06-27T00:00","s":"Ledningsevne","v":9.3,"p":1},
{"t":"2019-06-27T12:00","s":"Ledningsevne","v":9.3,"p":1},
{"t":"2019-06-28T00:00","s":"Ledningsevne","v":9.3,"p":1},
{"t":"2019-06-28T12:00","s":"Ledningsevne","v":9.3,"p":1},
{"t":"2019-06-29T00:00","s":"Ledningsevne","v":9.1,"p":1},
{"t":"2019-06-29T12:00","s":"Ledningsevne","v":9.3,"p":1},
{"t":"2019-06-30T00:00","s":"Ledningsevne","v":9.45,"p":1},
{"t":"2019-06-30T12:00","s":"Ledningsevne","v":9.5,"p":1},
{"t":"2019-07-01T00:00","s":"Ledningsevne","v":9.45,"p":1},
{"t":"2019-07-01T12:00","s":"Ledningsevne","v":9.5,"p":1},
{"t":"2019-07-02T00:00","s":"Ledningsevne","v":9.55,"p":1},
{"t":"2019-07-02T12:00","s":"Ledningsevne","v":9.4,"p":1},
{"t":"2019-07-03T00:00","s":"Ledningsevne","v":9.5,"p":1},
{"t":"2019-07-03T12:00","s":"Ledningsevne","v":9.3,"p":1},
{"t":"2019-07-04T00:00","s":"Ledningsevne","v":9.5,"p":1},
{"t":"2019-07-04T12:00","s":"Ledningsevne","v":9.45,"p":1},
{"t":"2019-07-05T00:00","s":"Ledningsevne","v":9.5,"p":1},
{"t":"2019-07-05T12:00","s":"Ledningsevne","v":9.3,"p":1},
{"t":"2019-07-06T00:00","s":"Ledningsevne","v":9.5,"p":1},
{"t":"2019-07-06T12:00","s":"Ledningsevne","v":9.5,"p":1},
{"t":"2019-07-07T00:00","s":"Ledningsevne","v":9.3,"p":1},
{"t":"2019-07-07T12:00","s":"Ledningsevne","v":9.5,"p":1},
{"t":"2019-07-08T00:00","s":"Ledningsevne","v":9.45,"p":1},
{"t":"2019-07-08T12:00","s":"Ledningsevne","v":9.3,"p":1},
{"t":"2019-07-09T00:00","s":"Ledningsevne","v":9.3,"p":1},
{"t":"2019-07-09T12:00","s":"Ledningsevne","v":9.3,"p":1},
{"t":"2019-07-10T00:00","s":"Ledningsevne","v":9.3,"p":1},
{"t":"2019-07-10T12:00","s":"Ledningsevne","v":9.3,"p":1},
{"t":"2019-07-10T18:00","s":"Ledningsevne","v":9.6,"p":1},
{"t":"2019-08-08T09:00","s":"Ledningsevne","v":9.5,"p":2},
{"t":"2019-08-08T15:00","s":"Ledningsevne","v":9.7,"p":2},
{"t":"2019-08-09T00:00","s":"Ledningsevne","v":9.45,"p":2},
{"t":"2019-08-09T12:00","s":"Ledningsevne","v":9.7,"p":2},
{"t":"2019-08-10T00:00","s":"Ledningsevne","v":9.45,"p":2},
{"t":"2019-08-10T12:00","s":"Ledningsevne","v":9.75,"p":2},
{"t":"2019-08-11T00:00","s":"Ledningsevne","v":9.7,"p":2},
{"t":"2019-08-11T12:00","s":"Ledningsevne","v":9.65,"p":2},
{"t":"2019-08-12T00:00","s":"Ledningsevne","v":9.7,"p":2},
{"t":"2019-08-12T12:00","s":"Ledningsevne","v":9.65,"p":2},
{"t":"2019-08-13T00:00","s":"Ledningsevne","v":9.7,"p":2},
{"t":"2019-08-13T12:00","s":"Ledningsevne","v":9.7,"p":2},
{"t":"2019-08-14T00:00","s":"Ledningsevne","v":9.65,"p":2},
{"t":"2019-08-14T12:00","s":"Ledningsevne","v":9.7,"p":2},
{"t":"2019-08-15T00:00","s":"Ledningsevne","v":9.7,"p":2},
{"t":"2019-08-15T12:00","s":"Ledningsevne","v":9.65,"p":2},
{"t":"2019-08-16T00:00","s":"Ledningsevne","v":9.45,"p":2},
{"t":"2019-08-16T12:00","s":"Ledningsevne","v":9.5,"p":2},
{"t":"2019-08-17T00:00","s":"Ledningsevne","v":9.7,"p":2},
{"t":"2019-08-17T12:00","s":"Ledningsevne","v":9.5,"p":2},
{"t":"2019-08-18T00:00","s":"Ledningsevne","v":9.7,"p":2},
{"t":"2019-08-18T12:00","s":"Ledningsevne","v":9.7,"p":2},
{"t":"2019-08-19T00:00","s":"Ledningsevne","v":9.5,"p":2},
{"t":"2019-08-19T12:00","s":"Ledningsevne","v":9.7,"p":2},
{"t":"2019-08-20T00:00","s":"Ledningsevne","v":9.7,"p":2},
{"t":"2019-08-20T12:00","s":"Ledningsevne","v":9.5,"p":2},
{"t":"2019-08-21T00:00","s":"Ledningsevne","v":9.7,"p":2},
{"t":"2019-08-21T12:00","s":"Ledningsevne","v":9.7,"p":2},
{"t":"2019-08-22T00:00","s":"Ledningsevne","v":9.5,"p":2},
{"t":"2019-08-22T12:00","s":"Ledningsevne","v":9.7,"p":2},
{"t":"2019-08-23T00:00","s":"Ledningsevne","v":9.7,"p":2},
{"t":"2019-08-23T12:00","s":"Ledningsevne","v":9.5,"p":2},
{"t":"2019-08-24T00:00","s":"Ledningsevne","v":9.7,"p":2},
{"t":"2019-08-24T12:00","s":"Ledningsevne","v":9.7,"p":2},
{"t":"2019-08-25T00:00","s":"Ledningsevne","v":9.5,"p":2},
{"t":"2019-08-25T12:00","s":"Ledningsevne","v":9.7,"p":2},
{"t":"2019-08-26T00:00","s":"Ledningsevne","v":9.75,"p":2},
{"t":"2019-08-26T12:00","s":"Ledningsevne","v":9.7,"p":2},
{"t":"2019-08-27T00:00","s":"Ledningsevne","v":9.75,"p":2},
{"t":"2019-08-27T12:00","s":"Ledningsevne","v":9.7,"p":2},
{"t":"2019-08-28T00:00","s":"Ledningsevne","v":9.75,"p":2},
{"t":"2019-08-28T12:00","s":"Ledningsevne","v":9.75,"p":2},
{"t":"2019-08-29T00:00","s":"Ledningsevne","v":9.75,"p":2},
{"t":"2019-08-29T12:00","s":"Ledningsevne","v":9.8,"p":2},
{"t":"2019-08-30T00:00","s":"Ledningsevne","v":9.75,"p":2},
{"t":"2019-08-30T12:00","s":"Ledningsevne","v":9.75,"p":2},
{"t":"2019-08-31T00:00","s":"Ledningsevne","v":9.75,"p":2},
{"t":"2019-08-31T06:00","s":"Ledningsevne","v":9.5,"p":2},
{"t":"2019-08-31T12:00","s":"Ledningsevne","v":9.75,"p":2},
{"t":"2019-09-01T00:00","s":"Ledningsevne","v":9.75,"p":2},
{"t":"2019-09-01T12:00","s":"Ledningsevne","v":9.8,"p":2},
{"t":"2019-09-02T00:00","s":"Ledningsevne","v":9.5,"p":2},
{"t":"2019-09-02T12:00","s":"Ledningsevne","v":9.8,"p":2},
{"t":"2019-09-03T00:00","s":"Ledningsevne","v":9.8,"p":2},
{"t":"2019-09-03T12:00","s":"Ledningsevne","v":9.8,"p":2},
{"t":"2019-09-04T00:00","s":"Ledningsevne","v":9.8,"p":2},
{"t":"2019-09-04T12:00","s":"Ledningsevne","v":9.8,"p":2},
{"t":"2019-09-05T00:00","s":"Ledningsevne","v":9.85,"p":2},
{"t":"2019-09-05T12:00","s":"Ledningsevne","v":9.8,"p":2},
{"t":"2019-09-06T00:00","s":"Ledningsevne","v":9.85,"p":2},
{"t":"2019-09-06T12:00","s":"Ledningsevne","v":9.8,"p":2},
{"t":"2019-09-07T00:00","s":"Ledningsevne","v":9.85,"p":2},
{"t":"2019-09-07T12:00","s":"Ledningsevne","v":9.8,"p":2},
{"t":"2019-09-08T00:00","s":"Ledningsevne","v":9.85,"p":2},
{"t":"2019-09-08T12:00","s":"Ledningsevne","v":9.8,"p":2},
{"t":"2019-09-09T00:00","s":"Ledningsevne","v":9.85,"p":2},
{"t":"2019-09-09T12:00","s":"Ledningsevne","v":9.85,"p":2},
{"t":"2019-09-10T00:00","s":"Ledningsevne","v":9.85,"p":2},
{"t":"2019-09-10T12:00","s":"Ledningsevne","v":9.9,"p":2},
{"t":"2019-09-11T00:00","s":"Ledningsevne","v":9.85,"p":2},
{"t":"2019-09-11T12:00","s":"Ledningsevne","v":9.85,"p":2},
{"t":"2019-09-12T00:00","s":"Ledningsevne","v":10.1,"p":2},
{"t":"2019-09-12T06:00","s":"Ledningsevne","v":9.7,"p":2},
{"t":"2019-09-12T12:00","s":"Ledningsevne","v":10.0,"p":2},
{"t":"2019-09-13T00:00","s":"Ledningsevne","v":9.85,"p":2},
{"t":"2019-09-13T12:00","s":"Ledningsevne","v":9.9,"p":2},
{"t":"2019-09-14T00:00","s":"Ledningsevne","v":9.85,"p":2},
{"t":"2019-09-14T12:00","s":"Ledningsevne","v":10.0,"p":2},
{"t":"2019-09-15T00:00","s":"Ledningsevne","v":9.85,"p":2},
{"t":"2019-09-15T12:00","s":"Ledningsevne","v":9.9,"p":2},
{"t":"2019-09-16T00:00","s":"Ledningsevne","v":9.85,"p":2},
{"t":"2019-09-16T12:00","s":"Ledningsevne","v":9.9,"p":2},
{"t":"2019-09-17T00:00","s":"Ledningsevne","v":9.95,"p":2},
{"t":"2019-09-17T12:00","s":"Ledningsevne","v":9.9,"p":2},
{"t":"2019-09-18T00:00","s":"Ledningsevne","v":9.9,"p":2},
{"t":"2019-09-18T14:00","s":"Ledningsevne","v":9.85,"p":2}
],
"right": [
{"t":"2019-06-07T12:00","s":"pH","v":7.28,"p":1},
{"t":"2019-06-08T00:00","s":"pH","v":7.24,"p":1},
{"t":"2019-06-08T12:00","s":"pH","v":7.3,"p":1},
{"t":"2019-06-09T00:00","s":"pH","v":7.22,"p":1},
{"t":"2019-06-09T12:00","s":"pH","v":7.26,"p":1},
{"t":"2019-06-10T00:00","s":"pH","v":7.2,"p":1},
{"t":"2019-06-10T12:00","s":"pH","v":7.25,"p":1},
{"t":"2019-06-11T00:00","s":"pH","v":7.24,"p":1},
{"t":"2019-06-11T12:00","s":"pH","v":7.2,"p":1},
{"t":"2019-06-12T00:00","s":"pH","v":7.26,"p":1},
{"t":"2019-06-12T12:00","s":"pH","v":7.22,"p":1},
{"t":"2019-06-13T00:00","s":"pH","v":7.18,"p":1},
{"t":"2019-06-13T12:00","s":"pH","v":7.24,"p":1},
{"t":"2019-06-14T00:00","s":"pH","v":7.12,"p":1},
{"t":"2019-06-14T12:00","s":"pH","v":7.2,"p":1},
{"t":"2019-06-15T00:00","s":"pH","v":7.24,"p":1},
{"t":"2019-06-15T12:00","s":"pH","v":7.2,"p":1},
{"t":"2019-06-16T00:00","s":"pH","v":7.28,"p":1},
{"t":"2019-06-16T12:00","s":"pH","v":7.26,"p":1},
{"t":"2019-06-17T00:00","s":"pH","v":7.3,"p":1},
{"t":"2019-06-17T12:00","s":"pH","v":7.24,"p":1},
{"t":"2019-06-18T00:00","s":"pH","v":7.42,"p":1},
{"t":"2019-06-18T12:00","s":"pH","v":7.24,"p":1},
{"t":"2019-06-19T00:00","s":"pH","v":7.3,"p":1},
{"t":"2019-06-19T12:00","s":"pH","v":7.22,"p":1},
{"t":"2019-06-20T00:00","s":"pH","v":7.28,"p":1},
{"t":"2019-06-20T12:00","s":"pH","v":7.3,"p":1},
{"t":"2019-06-21T00:00","s":"pH","v":7.24,"p":1},
{"t":"2019-06-21T12:00","s":"pH","v":7.32,"p":1},
{"t":"2019-06-22T00:00","s":"pH","v":7.28,"p":1},
{"t":"2019-06-22T12:00","s":"pH","v":7.3,"p":1},
{"t":"2019-06-23T00:00","s":"pH","v":7.32,"p":1},
{"t":"2019-06-23T12:00","s":"pH","v":7.28,"p":1},
{"t":"2019-06-24T00:00","s":"pH","v":7.3,"p":1},
{"t":"2019-06-24T12:00","s":"pH","v":7.34,"p":1},
{"t":"2019-06-25T00:00","s":"pH","v":7.3,"p":1},
{"t":"2019-06-25T12:00","s":"pH","v":7.32,"p":1},
{"t":"2019-06-26T00:00","s":"pH","v":7.36,"p":1},
{"t":"2019-06-26T12:00","s":"pH","v":7.32,"p":1},
{"t":"2019-06-27T00:00","s":"pH","v":7.34,"p":1},
{"t":"2019-06-27T12:00","s":"pH","v":7.3,"p":1},
{"t":"2019-06-28T00:00","s":"pH","v":7.24,"p":1},
{"t":"2019-06-28T12:00","s":"pH","v":7.28,"p":1},
{"t":"2019-06-29T00:00","s":"pH","v":7.36,"p":1},
{"t":"2019-06-29T12:00","s":"pH","v":7.4,"p":1},
{"t":"2019-06-30T00:00","s":"pH","v":7.34,"p":1},
{"t":"2019-06-30T12:00","s":"pH","v":7.44,"p":1},
{"t":"2019-07-01T00:00","s":"pH","v":7.36,"p":1},
{"t":"2019-07-01T12:00","s":"pH","v":7.4,"p":1},
{"t":"2019-07-02T00:00","s":"pH","v":7.32,"p":1},
{"t":"2019-07-02T12:00","s":"pH","v":7.38,"p":1},
{"t":"2019-07-03T00:00","s":"pH","v":7.44,"p":1},
{"t":"2019-07-03T12:00","s":"pH","v":7.36,"p":1},
{"t":"2019-07-04T00:00","s":"pH","v":7.2,"p":1},
{"t":"2019-07-04T12:00","s":"pH","v":7.4,"p":1},
{"t":"2019-07-05T00:00","s":"pH","v":7.42,"p":1},
{"t":"2019-07-05T12:00","s":"pH","v":7.22,"p":1},
{"t":"2019-07-06T00:00","s":"pH","v":7.38,"p":1},
{"t":"2019-07-06T12:00","s":"pH","v":7.42,"p":1},
{"t":"2019-07-07T00:00","s":"pH","v":7.34,"p":1},
{"t":"2019-07-07T12:00","s":"pH","v":7.3,"p":1},
{"t":"2019-07-08T00:00","s":"pH","v":7.38,"p":1},
{"t":"2019-07-08T12:00","s":"pH","v":7.42,"p":1},
{"t":"2019-07-09T00:00","s":"pH","v":7.36,"p":1},
{"t":"2019-07-09T12:00","s":"pH","v":7.34,"p":1},
{"t":"2019-07-10T00:00","s":"pH","v":7.38,"p":1},
{"t":"2019-07-10T12:00","s":"pH","v":7.34,"p":1},
{"t":"2019-07-10T18:00","s":"pH","v":7.36,"p":1},
{"t":"2019-08-08T14:00","s":"pH","v":7.26,"p":2},
{"t":"2019-08-09T00:00","s":"pH","v":7.38,"p":2},
{"t":"2019-08-09T12:00","s":"pH","v":7.22,"p":2},
{"t":"2019-08-10T00:00","s":"pH","v":7.34,"p":2},
{"t":"2019-08-10T12:00","s":"pH","v":7.28,"p":2},
{"t":"2019-08-11T00:00","s":"pH","v":7.42,"p":2},
{"t":"2019-08-11T12:00","s":"pH","v":7.25,"p":2},
{"t":"2019-08-12T00:00","s":"pH","v":7.36,"p":2},
{"t":"2019-08-12T12:00","s":"pH","v":7.2,"p":2},
{"t":"2019-08-13T00:00","s":"pH","v":7.4,"p":2},
{"t":"2019-08-13T12:00","s":"pH","v":7.32,"p":2},
{"t":"2019-08-14T00:00","s":"pH","v":7.3,"p":2},
{"t":"2019-08-14T12:00","s":"pH","v":7.22,"p":2},
{"t":"2019-08-15T00:00","s":"pH","v":7.34,"p":2},
{"t":"2019-08-15T12:00","s":"pH","v":7.3,"p":2},
{"t":"2019-08-15T19:00","s":"pH","v":7.7,"p":2},
{"t":"2019-08-16T05:00","s":"pH","v":7.3,"p":2},
{"t":"2019-08-16T14:00","s":"pH","v":7.0,"p":2},
{"t":"2019-08-17T05:00","s":"pH","v":6.92,"p":2},
{"t":"2019-08-17T14:00","s":"pH","v":7.1,"p":2},
{"t":"2019-08-18T00:00","s":"pH","v":7.2,"p":2},
{"t":"2019-08-18T12:00","s":"pH","v":7.04,"p":2},
{"t":"2019-08-19T00:00","s":"pH","v":7.18,"p":2},
{"t":"2019-08-19T12:00","s":"pH","v":7.3,"p":2},
{"t":"2019-08-20T00:00","s":"pH","v":7.1,"p":2},
{"t":"2019-08-20T12:00","s":"pH","v":7.2,"p":2},
{"t":"2019-08-21T00:00","s":"pH","v":7.3,"p":2},
{"t":"2019-08-21T12:00","s":"pH","v":7.16,"p":2},
{"t":"2019-08-22T00:00","s":"pH","v":7.24,"p":2},
{"t":"2019-08-22T12:00","s":"pH","v":7.14,"p":2},
{"t":"2019-08-23T00:00","s":"pH","v":7.34,"p":2},
{"t":"2019-08-23T12:00","s":"pH","v":7.44,"p":2},
{"t":"2019-08-23T19:00","s":"pH","v":7.62,"p":2},
{"t":"2019-08-24T05:00","s":"pH","v":7.2,"p":2},
{"t":"2019-08-24T14:00","s":"pH","v":7.1,"p":2},
{"t":"2019-08-25T00:00","s":"pH","v":7.3,"p":2},
{"t":"2019-08-25T12:00","s":"pH","v":7.4,"p":2},
{"t":"2019-08-26T00:00","s":"pH","v":7.26,"p":2},
{"t":"2019-08-26T12:00","s":"pH","v":7.34,"p":2},
{"t":"2019-08-27T00:00","s":"pH","v":7.38,"p":2},
{"t":"2019-08-27T12:00","s":"pH","v":7.36,"p":2},
{"t":"2019-08-28T00:00","s":"pH","v":7.42,"p":2},
{"t":"2019-08-28T12:00","s":"pH","v":7.4,"p":2},
{"t":"2019-08-29T00:00","s":"pH","v":7.44,"p":2},
{"t":"2019-08-29T12:00","s":"pH","v":7.4,"p":2},
{"t":"2019-08-30T00:00","s":"pH","v":7.46,"p":2},
{"t":"2019-08-31T00:00","s":"pH","v":7.48,"p":2},
{"t":"2019-09-01T00:00","s":"pH","v":7.46,"p":2},
{"t":"2019-09-02T00:00","s":"pH","v":7.5,"p":2},
{"t":"2019-09-03T00:00","s":"pH","v":7.52,"p":2},
{"t":"2019-09-04T00:00","s":"pH","v":7.5,"p":2},
{"t":"2019-09-05T00:00","s":"pH","v":7.53,"p":2},
{"t":"2019-09-06T00:00","s":"pH","v":7.52,"p":2},
{"t":"2019-09-07T00:00","s":"pH","v":7.54,"p":2},
{"t":"2019-09-08T00:00","s":"pH","v":7.52,"p":2},
{"t":"2019-09-09T00:00","s":"pH","v":7.53,"p":2},
{"t":"2019-09-10T00:00","s":"pH","v":7.52,"p":2},
{"t":"2019-09-11T00:00","s":"pH","v":7.5,"p":2},
{"t":"2019-09-11T19:00","s":"pH","v":7.5,"p":2},
{"t":"2019-09-12T00:00","s":"pH","v":7.18,"p":2},
{"t":"2019-09-12T10:00","s":"pH","v":7.2,"p":2},
{"t":"2019-09-12T14:00","s":"pH","v":7.5,"p":2},
{"t":"2019-09-13T00:00","s":"pH","v":7.52,"p":2},
{"t":"2019-09-13T12:00","s":"pH","v":7.55,"p":2},
{"t":"2019-09-14T00:00","s":"pH","v":7.5,"p":2},
{"t":"2019-09-14T12:00","s":"pH","v":7.3,"p":2},
{"t":"2019-09-14T19:00","s":"pH","v":7.12,"p":2},
{"t":"2019-09-15T05:00","s":"pH","v":7.1,"p":2},
{"t":"2019-09-15T12:00","s":"pH","v":7.4,"p":2},
{"t":"2019-09-16T00:00","s":"pH","v":7.48,"p":2},
{"t":"2019-09-16T12:00","s":"pH","v":7.45,"p":2},
{"t":"2019-09-17T00:00","s":"pH","v":7.5,"p":2},
{"t":"2019-09-17T12:00","s":"pH","v":7.44,"p":2},
{"t":"2019-09-18T00:00","s":"pH","v":7.48,"p":2},
{"t":"2019-09-18T14:00","s":"pH","v":7.44,"p":2},
{"t":"2019-06-07T12:00","s":"Vannhøyde","v":10.32,"p":1},
{"t":"2019-06-07T18:00","s":"Vannhøyde","v":10.45,"p":1},
{"t":"2019-06-08T06:00","s":"Vannhøyde","v":10.52,"p":1},
{"t":"2019-06-08T18:00","s":"Vannhøyde","v":10.56,"p":1},
{"t":"2019-06-09T06:00","s":"Vannhøyde","v":10.6,"p":1},
{"t":"2019-06-09T18:00","s":"Vannhøyde","v":10.64,"p":1},
{"t":"2019-06-10T06:00","s":"Vannhøyde","v":10.62,"p":1},
{"t":"2019-06-10T18:00","s":"Vannhøyde","v":10.66,"p":1},
{"t":"2019-06-11T06:00","s":"Vannhøyde","v":10.63,"p":1},
{"t":"2019-06-11T18:00","s":"Vannhøyde","v":10.65,"p":1},
{"t":"2019-06-12T06:00","s":"Vannhøyde","v":10.64,"p":1},
{"t":"2019-06-12T18:00","s":"Vannhøyde","v":10.66,"p":1},
{"t":"2019-06-13T06:00","s":"Vannhøyde","v":10.72,"p":1},
{"t":"2019-06-13T18:00","s":"Vannhøyde","v":10.64,"p":1},
{"t":"2019-06-14T06:00","s":"Vannhøyde","v":10.66,"p":1},
{"t":"2019-06-14T18:00","s":"Vannhøyde","v":10.67,"p":1},
{"t":"2019-06-15T06:00","s":"Vannhøyde","v":10.65,"p":1},
{"t":"2019-06-15T18:00","s":"Vannhøyde","v":10.68,"p":1},
{"t":"2019-06-16T06:00","s":"Vannhøyde","v":10.66,"p":1},
{"t":"2019-06-16T18:00","s":"Vannhøyde","v":10.67,"p":1},
{"t":"2019-06-17T06:00","s":"Vannhøyde","v":10.65,"p":1},
{"t":"2019-06-17T18:00","s":"Vannhøyde","v":10.68,"p":1},
{"t":"2019-06-18T06:00","s":"Vannhøyde","v":10.66,"p":1},
{"t":"2019-06-18T18:00","s":"Vannhøyde","v":10.69,"p":1},
{"t":"2019-06-19T06:00","s":"Vannhøyde","v":10.67,"p":1},
{"t":"2019-06-19T18:00","s":"Vannhøyde","v":10.68,"p":1},
{"t":"2019-06-20T06:00","s":"Vannhøyde","v":10.67,"p":1},
{"t":"2019-06-20T18:00","s":"Vannhøyde","v":10.52,"p":1},
{"t":"2019-06-21T06:00","s":"Vannhøyde","v":10.7,"p":1},
{"t":"2019-06-21T18:00","s":"Vannhøyde","v":10.68,"p":1},
{"t":"2019-06-22T06:00","s":"Vannhøyde","v":10.7,"p":1},
{"t":"2019-06-22T18:00","s":"Vannhøyde","v":10.69,"p":1},
{"t":"2019-06-23T06:00","s":"Vannhøyde","v":10.72,"p":1},
{"t":"2019-06-23T18:00","s":"Vannhøyde","v":10.7,"p":1},
{"t":"2019-06-24T06:00","s":"Vannhøyde","v":10.73,"p":1},
{"t":"2019-06-24T18:00","s":"Vannhøyde","v":10.69,"p":1},
{"t":"2019-06-25T06:00","s":"Vannhøyde","v":10.7,"p":1},
{"t":"2019-06-25T18:00","s":"Vannhøyde","v":10.69,"p":1},
{"t":"2019-06-26T06:00","s":"Vannhøyde","v":10.7,"p":1},
{"t":"2019-06-26T18:00","s":"Vannhøyde","v":10.7,"p":1},
{"t":"2019-06-27T06:00","s":"Vannhøyde","v":10.69,"p":1},
{"t":"2019-06-27T18:00","s":"Vannhøyde","v":10.71,"p":1},
{"t":"2019-06-28T06:00","s":"Vannhøyde","v":10.7,"p":1},
{"t":"2019-06-28T18:00","s":"Vannhøyde","v":10.69,"p":1},
{"t":"2019-06-29T06:00","s":"Vannhøyde","v":10.7,"p":1},
{"t":"2019-06-29T18:00","s":"Vannhøyde","v":10.71,"p":1},
{"t":"2019-06-30T06:00","s":"Vannhøyde","v":10.7,"p":1},
{"t":"2019-06-30T18:00","s":"Vannhøyde","v":10.72,"p":1},
{"t":"2019-07-01T06:00","s":"Vannhøyde","v":10.71,"p":1},
{"t":"2019-07-01T18:00","s":"Vannhøyde","v":10.73,"p":1},
{"t":"2019-07-02T00:00","s":"Vannhøyde","v":10.72,"p":1},
{"t":"2019-07-02T04:00","s":"Vannhøyde","v":10.82,"p":1},
{"t":"2019-07-02T07:00","s":"Vannhøyde","v":10.55,"p":1},
{"t":"2019-07-02T10:00","s":"Vannhøyde","v":10.3,"p":1},
{"t":"2019-07-02T13:00","s":"Vannhøyde","v":10.85,"p":1},
{"t":"2019-07-02T18:00","s":"Vannhøyde","v":10.95,"p":1},
{"t":"2019-07-03T06:00","s":"Vannhøyde","v":10.92,"p":1},
{"t":"2019-07-03T18:00","s":"Vannhøyde","v":11.0,"p":1},
{"t":"2019-07-04T06:00","s":"Vannhøyde","v":10.94,"p":1},
{"t":"2019-07-04T18:00","s":"Vannhøyde","v":10.98,"p":1},
{"t":"2019-07-05T06:00","s":"Vannhøyde","v":10.93,"p":1},
{"t":"2019-07-05T18:00","s":"Vannhøyde","v":11.0,"p":1},
{"t":"2019-07-06T06:00","s":"Vannhøyde","v":10.95,"p":1},
{"t":"2019-07-06T18:00","s":"Vannhøyde","v":10.98,"p":1},
{"t":"2019-07-07T06:00","s":"Vannhøyde","v":10.94,"p":1},
{"t":"2019-07-07T18:00","s":"Vannhøyde","v":11.02,"p":1},
{"t":"2019-07-08T06:00","s":"Vannhøyde","v":10.96,"p":1},
{"t":"2019-07-08T18:00","s":"Vannhøyde","v":10.99,"p":1},
{"t":"2019-07-09T06:00","s":"Vannhøyde","v":10.95,"p":1},
{"t":"2019-07-09T18:00","s":"Vannhøyde","v":11.01,"p":1},
{"t":"2019-07-10T06:00","s":"Vannhøyde","v":10.97,"p":1},
{"t":"2019-07-10T18:00","s":"Vannhøyde","v":10.95,"p":1},
{"t":"2019-08-08T14:00","s":"Vannhøyde","v":10.8,"p":2},
{"t":"2019-08-08T18:00","s":"Vannhøyde","v":10.5,"p":2},
{"t":"2019-08-09T06:00","s":"Vannhøyde","v":10.44,"p":2},
{"t":"2019-08-09T18:00","s":"Vannhøyde","v":10.52,"p":2},
{"t":"2019-08-10T06:00","s":"Vannhøyde","v":10.42,"p":2},
{"t":"2019-08-10T18:00","s":"Vannhøyde","v":10.55,"p":2},
{"t":"2019-08-11T06:00","s":"Vannhøyde","v":10.45,"p":2},
{"t":"2019-08-11T18:00","s":"Vannhøyde","v":10.58,"p":2},
{"t":"2019-08-12T06:00","s":"Vannhøyde","v":10.43,"p":2},
{"t":"2019-08-12T18:00","s":"Vannhøyde","v":10.56,"p":2},
{"t":"2019-08-13T06:00","s":"Vannhøyde","v":10.4,"p":2},
{"t":"2019-08-13T18:00","s":"Vannhøyde","v":10.54,"p":2},
{"t":"2019-08-14T06:00","s":"Vannhøyde","v":10.38,"p":2},
{"t":"2019-08-14T18:00","s":"Vannhøyde","v":10.52,"p":2},
{"t":"2019-08-15T06:00","s":"Vannhøyde","v":10.47,"p":2},
{"t":"2019-08-15T18:00","s":"Vannhøyde","v":10.5,"p":2},
{"t":"2019-08-16T06:00","s":"Vannhøyde","v":10.46,"p":2},
{"t":"2019-08-16T18:00","s":"Vannhøyde","v":10.51,"p":2},
{"t":"2019-08-17T06:00","s":"Vannhøyde","v":10.44,"p":2},
{"t":"2019-08-17T18:00","s":"Vannhøyde","v":10.5,"p":2},
{"t":"2019-08-18T06:00","s":"Vannhøyde","v":10.47,"p":2},
{"t":"2019-08-18T18:00","s":"Vannhøyde","v":10.49,"p":2},
{"t":"2019-08-19T06:00","s":"Vannhøyde","v":10.46,"p":2},
{"t":"2019-08-19T18:00","s":"Vannhøyde","v":10.48,"p":2},
{"t":"2019-08-20T06:00","s":"Vannhøyde","v":10.46,"p":2},
{"t":"2019-08-20T18:00","s":"Vannhøyde","v":10.47,"p":2},
{"t":"2019-08-21T06:00","s":"Vannhøyde","v":10.45,"p":2},
{"t":"2019-08-21T18:00","s":"Vannhøyde","v":10.47,"p":2},
{"t":"2019-08-22T06:00","s":"Vannhøyde","v":10.46,"p":2},
{"t":"2019-08-22T18:00","s":"Vannhøyde","v":10.45,"p":2},
{"t":"2019-08-23T06:00","s":"Vannhøyde","v":10.46,"p":2},
{"t":"2019-08-23T18:00","s":"Vannhøyde","v":10.44,"p":2},
{"t":"2019-08-24T06:00","s":"Vannhøyde","v":10.46,"p":2},
{"t":"2019-08-24T18:00","s":"Vannhøyde","v":10.45,"p":2},
{"t":"2019-08-25T06:00","s":"Vannhøyde","v":10.46,"p":2},
{"t":"2019-08-25T18:00","s":"Vannhøyde","v":10.44,"p":2},
{"t":"2019-08-26T06:00","s":"Vannhøyde","v":10.47,"p":2},
{"t":"2019-08-26T18:00","s":"Vannhøyde","v":10.45,"p":2},
{"t":"2019-08-27T06:00","s":"Vannhøyde","v":10.6,"p":2},
{"t":"2019-08-27T18:00","s":"Vannhøyde","v":10.47,"p":2},
{"t":"2019-08-28T06:00","s":"Vannhøyde","v":10.45,"p":2},
{"t":"2019-08-28T18:00","s":"Vannhøyde","v":10.48,"p":2},
{"t":"2019-08-29T06:00","s":"Vannhøyde","v":10.44,"p":2},
{"t":"2019-08-29T18:00","s":"Vannhøyde","v":10.5,"p":2},
{"t":"2019-08-30T06:00","s":"Vannhøyde","v":10.43,"p":2},
{"t":"2019-08-30T18:00","s":"Vannhøyde","v":10.49,"p":2},
{"t":"2019-08-31T06:00","s":"Vannhøyde","v":10.46,"p":2},
{"t":"2019-08-31T18:00","s":"Vannhøyde","v":10.52,"p":2},
{"t":"2019-09-01T06:00","s":"Vannhøyde","v":10.45,"p":2},
{"t":"2019-09-01T18:00","s":"Vannhøyde","v":10.55,"p":2},
{"t":"2019-09-02T06:00","s":"Vannhøyde","v":10.46,"p":2},
{"t":"2019-09-02T18:00","s":"Vannhøyde","v":10.5,"p":2},
{"t":"2019-09-03T06:00","s":"Vannhøyde","v":10.47,"p":2},
{"t":"2019-09-03T18:00","s":"Vannhøyde","v":10.49,"p":2},
{"t":"2019-09-04T06:00","s":"Vannhøyde","v":10.45,"p":2},
{"t":"2019-09-04T18:00","s":"Vannhøyde","v":10.48,"p":2},
{"t":"2019-09-05T06:00","s":"Vannhøyde","v":10.44,"p":2},
{"t":"2019-09-05T18:00","s":"Vannhøyde","v":10.47,"p":2},
{"t":"2019-09-06T06:00","s":"Vannhøyde","v":10.45,"p":2},
{"t":"2019-09-06T18:00","s":"Vannhøyde","v":10.43,"p":2},
{"t":"2019-09-07T06:00","s":"Vannhøyde","v":10.46,"p":2},
{"t":"2019-09-07T18:00","s":"Vannhøyde","v":10.44,"p":2},
{"t":"2019-09-08T06:00","s":"Vannhøyde","v":10.45,"p":2},
{"t":"2019-09-08T18:00","s":"Vannhøyde","v":10.43,"p":2},
{"t":"2019-09-09T06:00","s":"Vannhøyde","v":10.44,"p":2},
{"t":"2019-09-09T18:00","s":"Vannhøyde","v":10.42,"p":2},
{"t":"2019-09-10T06:00","s":"Vannhøyde","v":10.45,"p":2},
{"t":"2019-09-10T18:00","s":"Vannhøyde","v":10.43,"p":2},
{"t":"2019-09-11T06:00","s":"Vannhøyde","v":10.44,"p":2},
{"t":"2019-09-11T18:00","s":"Vannhøyde","v":10.46,"p":2},
{"t":"2019-09-12T06:00","s":"Vannhøyde","v":10.55,"p":2},
{"t":"2019-09-12T18:00","s":"Vannhøyde","v":10.44,"p":2},
{"t":"2019-09-13T06:00","s":"Vannhøyde","v":10.46,"p":2},
{"t":"2019-09-13T18:00","s":"Vannhøyde","v":10.43,"p":2},
{"t":"2019-09-14T06:00","s":"Vannhøyde","v":10.45,"p":2},
{"t":"2019-09-14T18:00","s":"Vannhøyde","v":10.42,"p":2},
{"t":"2019-09-15T06:00","s":"Vannhøyde","v":10.46,"p":2},
{"t":"2019-09-15T18:00","s":"Vannhøyde","v":10.36,"p":2},
{"t":"2019-09-16T06:00","s":"Vannhøyde","v":10.47,"p":2},
{"t":"2019-09-16T18:00","s":"Vannhøyde","v":10.44,"p":2},
{"t":"2019-09-17T06:00","s":"Vannhøyde","v":10.49,"p":2},
{"t":"2019-09-17T18:00","s":"Vannhøyde","v":10.46,"p":2},
{"t":"2019-09-18T06:00","s":"Vannhøyde","v":10.52,"p":2},
{"t":"2019-09-18T14:00","s":"Vannhøyde","v":10.48,"p":2}
]
},
"encoding": {
  "x": {"field": "t", "type": "temporal",
    "scale": {"domain": [{"year": 2019, "month": 5, "date": 15}, {"year": 2019, "month": 10, "date": 2}]},
    "axis": {"title": null, "format": "%d.%m.%y", "ticks": false, "labelPadding": 26, "labelOverlap": false, "labelFlush": false, "labelBound": false, "domainColor": "#bfbfbf", "domainWidth": 2, "grid": true,
      "values": [{"year": 2019, "month": 5, "date": 15}, {"year": 2019, "month": 6, "date": 4}, {"year": 2019, "month": 6, "date": 24}, {"year": 2019, "month": 7, "date": 14}, {"year": 2019, "month": 8, "date": 3}, {"year": 2019, "month": 8, "date": 23}, {"year": 2019, "month": 9, "date": 12}, {"year": 2019, "month": 10, "date": 2}]}},
  "color": {"field": "s", "type": "nominal",
    "scale": {"domain": ["Vanntemperatur", "Turbiditet", "Ledningsevne", "pH", "Vannhøyde"], "range": ["#3F7F74", "#FFC800", "#B4BE00", "#66B36E", "#E8500E"]},
    "legend": {"orient": "none", "legendX": -83, "legendY": -85, "direction": "horizontal", "title": null, "symbolType": "stroke", "symbolSize": 3000, "symbolStrokeWidth": 4, "labelOffset": 5, "columnPadding": 24, "labelFontSize": 25, "labelLimit": 400}},
  "detail": {"field": "p", "type": "nominal"}
},
"layer": [
  {"data": {"name": "left"},
   "mark": {"type": "line", "strokeWidth": 3.5},
   "encoding": {"y": {"field": "v", "type": "quantitative", "scale": {"domain": [0, 30], "nice": false},
     "axis": {"values": [0, 5, 10, 15, 20, 25, 30], "title": ["Vanngtemperatur (°C), turbiditet (NTU) og", "ledningsevne (mS/m)"], "titleFontSize": 27, "domain": false, "ticks": false, "labelPadding": 26, "titlePadding": 12, "titleLineHeight": 35, "grid": true}}}},
  {"data": {"name": "right"},
   "mark": {"type": "line", "strokeWidth": 3.5},
   "encoding": {"y": {"field": "v", "type": "quantitative", "scale": {"domain": [0, 12], "nice": false},
     "axis": {"orient": "right", "values": [0, 2, 4, 6, 8, 10, 12], "title": "pH og vannhøyde (m)", "titleAngle": 270, "grid": false, "domain": false, "ticks": true, "tickSize": 9, "tickColor": "#d9d9d9", "tickWidth": 2, "labelPadding": 21, "titlePadding": 30}}}}
],
"resolve": {"scale": {"y": "independent"}, "axis": {"y": "independent"}}
}
